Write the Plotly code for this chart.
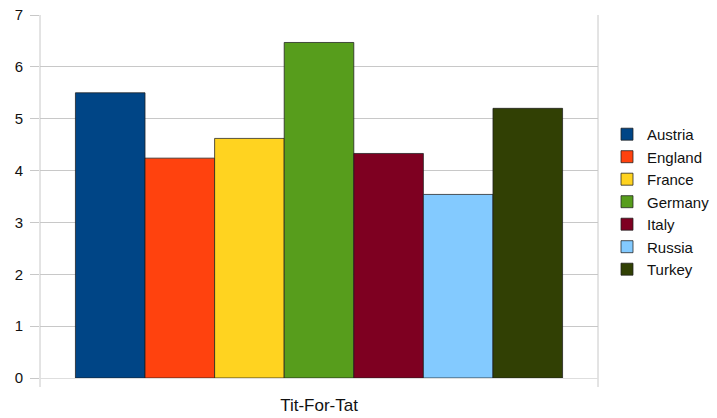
import plotly.graph_objects as go

countries = ["Austria", "England", "France", "Germany", "Italy", "Russia", "Turkey"]
values = [5.50, 4.24, 4.62, 6.47, 4.33, 3.54, 5.20]
colors = ["#004586", "#ff420e", "#ffd320", "#579d1c", "#7e0021", "#83caff", "#314004"]
category = ["Tit-For-Tat"]

fig = go.Figure()
for name, v, c in zip(countries, values, colors):
    fig.add_trace(go.Bar(
        x=category, y=[v], name=name,
        marker=dict(color=c, line=dict(color="rgba(30,30,30,0.75)", width=1)),
    ))

W, H = 717, 418
ml, mt, mb = 40, 15, 40
plot_w = 558
paper_w = W - ml
dom_end = plot_w / paper_w
plot_h = H - mt - mb

fig.update_layout(
    width=W, height=H,
    margin=dict(l=ml, r=0, t=mt, b=mb, autoexpand=False),
    paper_bgcolor="white", plot_bgcolor="white",
    barmode="group", bargap=0.127, bargroupgap=0,
    font=dict(family="Liberation Sans, Arial, sans-serif", size=15, color="#111"),
    legend=dict(x=(607 - ml) / paper_w, xanchor="left", y=0.485, yanchor="middle",
                font=dict(size=15), tracegroupgap=0, itemwidth=30),
    showlegend=True,
)
gray = "#c8c8c8"
fig.update_xaxes(
    domain=[0, dom_end],
    type="category", tickson="boundaries", ticks="", ticklen=9,
    tickcolor=gray, showgrid=True, gridcolor=gray, gridwidth=1,
    showline=False, zeroline=False, ticklabelstandoff=15, automargin=False,
    tickfont=dict(size=17),
)
fig.update_yaxes(
    range=[0, 7], dtick=1, ticks="outside", ticklen=9, tickcolor=gray,
    showgrid=True, gridcolor=gray, gridwidth=1, zeroline=True,
    zerolinecolor="#dedede", zerolinewidth=1, showline=False,
    ticklabelstandoff=4, automargin=False,
)
# frame lines at category boundaries (left & right of plot), extending below the axis
for xp in (0, dom_end):
    fig.add_shape(type="line", xref="paper", yref="paper",
                  x0=xp, x1=xp, y0=-9 / plot_h, y1=1,
                  line=dict(color=gray, width=1), layer="below")

fig.write_html("out.html")
